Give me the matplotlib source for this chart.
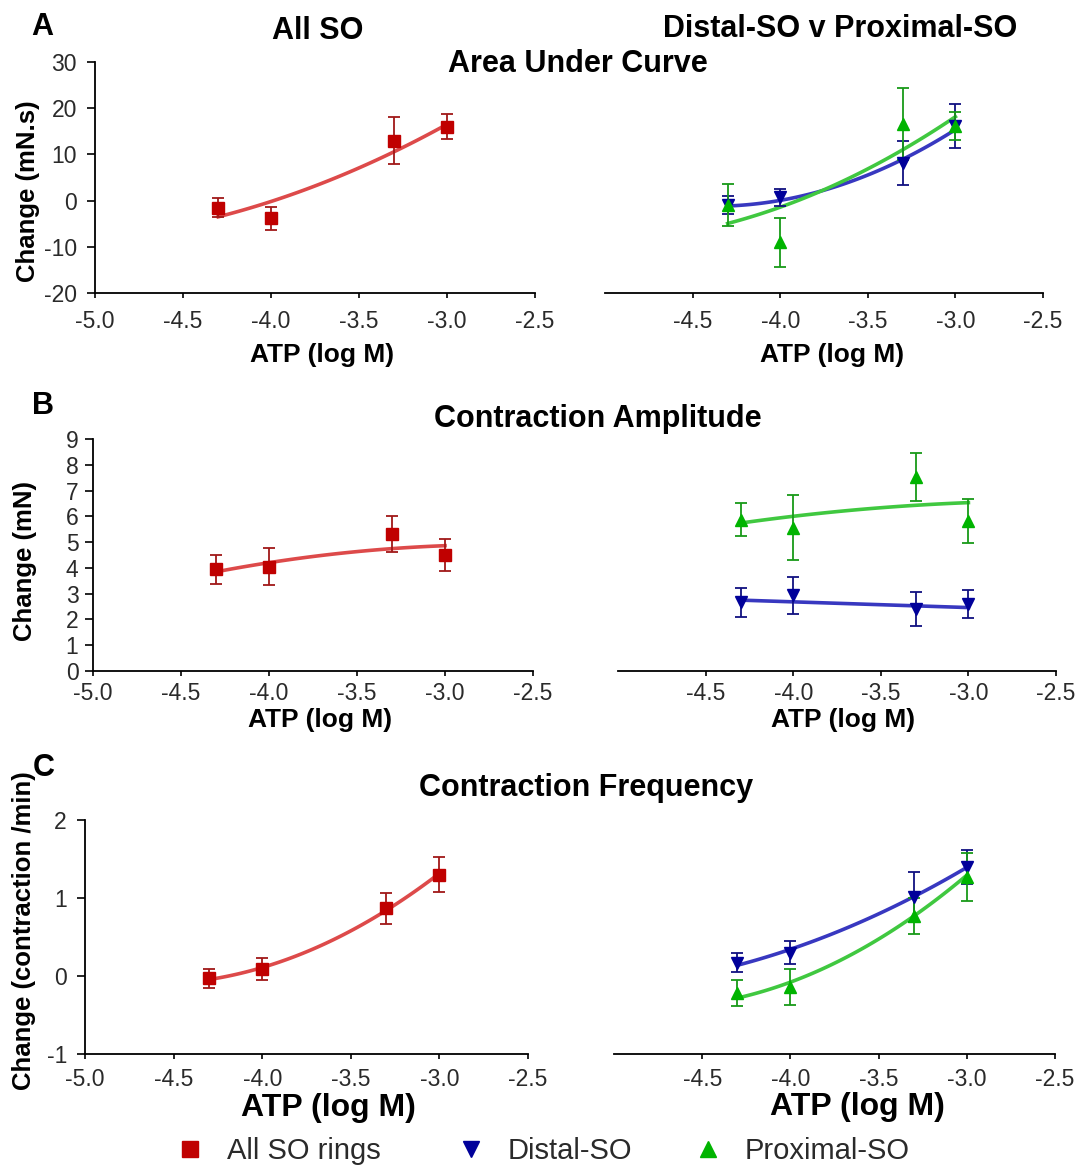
import numpy as np
import matplotlib.pyplot as plt

plt.rcParams['font.family'] = ['Liberation Sans', 'DejaVu Sans']
plt.rcParams['axes.unicode_minus'] = False

# ATP doses (log M)
atp = [-4.3, -4.0, -3.3, -3.0]

# A: area under curve (mN.s)
auc_all = [-1.5, -3.8, 13.0, 16.0]
auc_all_err = [2.0, 2.5, 5.0, 2.7]
auc_all_fit = [-3.4, -0.4, 10.8, 16.4]
auc_distal = [-1.0, 0.7, 8.2, 16.2]
auc_distal_err = [2.0, 1.8, 4.8, 4.8]
auc_distal_fit = [-1.3, 0.3, 8.7, 15.5]
auc_prox = [-1.0, -9.0, 16.6, 16.2]
auc_prox_err = [4.5, 5.3, 7.8, 3.0]
auc_prox_fit = [-4.7, -1.9, 11.5, 17.9]

# B: contraction amplitude (mN)
amp_all = [3.94, 4.05, 5.3, 4.5]
amp_all_err = [0.55, 0.72, 0.7, 0.63]
amp_all_fit = [3.85, 4.2, 4.75, 4.86]
amp_distal = [2.66, 2.93, 2.4, 2.6]
amp_distal_err = [0.55, 0.73, 0.67, 0.55]
amp_distal_fit = [2.74, 2.7, 2.51, 2.47]
amp_prox = [5.87, 5.56, 7.53, 5.83]
amp_prox_err = [0.65, 1.25, 0.93, 0.85]
amp_prox_fit = [5.75, 5.98, 6.45, 6.52]

# C: contraction frequency (contraction /min)
freq_all = [-0.03, 0.09, 0.87, 1.3]
freq_all_err = [0.12, 0.14, 0.2, 0.22]
freq_all_fit = [-0.03, 0.08, 0.87, 1.3]
freq_distal = [0.17, 0.3, 1.01, 1.4]
freq_distal_err = [0.12, 0.15, 0.32, 0.22]
freq_distal_fit = [0.15, 0.32, 1.04, 1.38]
freq_prox = [-0.22, -0.14, 0.77, 1.27]
freq_prox_err = [0.17, 0.23, 0.23, 0.31]
freq_prox_fit = [-0.26, -0.12, 0.81, 1.27]

xticks = [-5.0, -4.5, -4.0, -3.5, -3.0, -2.5]
xticks_right = [-4.5, -4.0, -3.5, -3.0, -2.5]

RED, RED_ERR, RED_LINE = '#c00000', '#a01818', '#dd4a4a'
BLUE, BLUE_ERR, BLUE_LINE = '#00009a', '#101080', '#3838c0'
GREEN, GREEN_ERR, GREEN_LINE = '#00b400', '#189a18', '#40c840'

W, H = 1085, 1169
fig = plt.figure(figsize=(W / 100, H / 100), dpi=100)


def px_axes(x0, ytop, x1, ybot):
    return fig.add_axes([x0 / W, 1 - ybot / H, (x1 - x0) / W, (ybot - ytop) / H])


def series(ax, y, err, fit, marker, mcolor, ecolor, lcolor, ms):
    ax.errorbar(atp, y, yerr=err, fmt='none', ecolor=ecolor, elinewidth=1.3,
                capsize=4.5, capthick=1.3, zorder=3)
    coef = np.polyfit(atp, fit, 2)
    xx = np.linspace(atp[0], atp[-1], 100)
    ax.plot(xx, np.polyval(coef, xx), color=lcolor, lw=2.6, zorder=2)
    ax.plot(atp, y, linestyle='none', marker=marker, color=mcolor, ms=ms, zorder=4)


def style(ax, ylim, yticks, xpad, ypad, xlab_pos, xfs, ylab_pos=None, ylabel=''):
    ax.set_xlim(-5.0, -2.5)
    ax.set_ylim(*ylim)
    for s in ['top', 'right']:
        ax.spines[s].set_visible(False)
    ax.spines['bottom'].set_linewidth(1.3)
    ax.tick_params(axis='x', direction='out', length=3.5, width=1.2, labelsize=16.5,
                   labelcolor='#2a2a2a', pad=xpad)
    ax.tick_params(axis='y', direction='out', length=6, width=1.2, labelsize=16.5,
                   labelcolor='#2a2a2a', pad=ypad)
    if ylab_pos is not None:
        ax.set_xticks(xticks)
        ax.set_yticks(yticks)
        ax.spines['left'].set_linewidth(1.3)
        ax.set_ylabel(ylabel, fontsize=18.5, fontweight='bold')
        ax.yaxis.set_label_coords(*ylab_pos)
    else:
        ax.set_xticks(xticks_right)
        ax.set_yticks([])
        ax.spines['left'].set_visible(False)
    ax.set_xticklabels(['%.1f' % t for t in ax.get_xticks()])
    ax.set_xlabel('ATP (log M)', fontsize=xfs, fontweight='bold')
    ax.xaxis.set_label_coords(*xlab_pos)


# row A
ax = px_axes(95, 62, 535, 293)
series(ax, auc_all, auc_all_err, auc_all_fit, 's', RED, RED_ERR, RED_LINE, 9)
style(ax, (-20, 30), [-20, -10, 0, 10, 20, 30], 9, 7, (0.516, -0.216), 19,
      (-0.125, 0.44), 'Change (mN.s)')
ax = px_axes(605, 62, 1043, 293)
series(ax, auc_distal, auc_distal_err, auc_distal_fit, 'v', BLUE, BLUE_ERR, BLUE_LINE, 8.5)
series(ax, auc_prox, auc_prox_err, auc_prox_fit, '^', GREEN, GREEN_ERR, GREEN_LINE, 8.5)
style(ax, (-20, 30), [], 9, 7, (0.518, -0.216), 19)

# row B
ax = px_axes(93, 439, 533, 671)
series(ax, amp_all, amp_all_err, amp_all_fit, 's', RED, RED_ERR, RED_LINE, 9)
style(ax, (0, 9), list(range(10)), 4.5, 4.5, (0.516, -0.16), 19,
      (-0.127, 0.474), 'Change (mN)')
ax = px_axes(618, 439, 1056, 671)
series(ax, amp_distal, amp_distal_err, amp_distal_fit, 'v', BLUE, BLUE_ERR, BLUE_LINE, 8.5)
series(ax, amp_prox, amp_prox_err, amp_prox_fit, '^', GREEN, GREEN_ERR, GREEN_LINE, 8.5)
style(ax, (0, 9), [], 4.5, 4.5, (0.514, -0.16), 19)

# row C
ax = px_axes(85, 820, 528, 1054)
series(ax, freq_all, freq_all_err, freq_all_fit, 's', RED, RED_ERR, RED_LINE, 9)
style(ax, (-1, 2), [-1, 0, 1, 2], 6.5, 7, (0.549, -0.165), 23,
      (-0.11, 0.526), 'Change (contraction /min)')
ax = px_axes(614, 820, 1055, 1054)
series(ax, freq_distal, freq_distal_err, freq_distal_fit, 'v', BLUE, BLUE_ERR, BLUE_LINE, 8.5)
series(ax, freq_prox, freq_prox_err, freq_prox_fit, '^', GREEN, GREEN_ERR, GREEN_LINE, 8.5)
style(ax, (-1, 2), [], 6.5, 7, (0.551, -0.162), 23)


# titles and panel letters
def ftext(x, y, s, size, **kw):
    fig.text(x / W, 1 - y / H, s, fontsize=size, fontweight='bold',
             ha='center', va='center', **kw)


ftext(42, 27, 'A', 22)
ftext(43, 406, 'B', 22)
ftext(44, 768, 'C', 22)
ftext(318, 31, 'All SO', 22)
ftext(840, 29, 'Distal-SO v Proximal-SO', 22)
ftext(578, 64, 'Area Under Curve', 22)
ftext(598, 419, 'Contraction Amplitude', 22)
ftext(586, 788, 'Contraction Frequency', 22)

# legend row, one entry per legend so the gaps follow the reference
legend_items = ['All SO rings', 'Distal-SO', 'Proximal-SO']
legend_markers = ['s', 'v', '^']
legend_colors = [RED, BLUE, GREEN]
legend_x = [175, 456, 693]
for lab, mk, col, lx in zip(legend_items, legend_markers, legend_colors, legend_x):
    h = plt.Line2D([], [], linestyle='none', marker=mk, color=col, ms=12)
    fig.legend([h], [lab], loc='center left', bbox_to_anchor=(lx / W, 1 - 1151 / H),
               frameon=False, fontsize=21, handlelength=1.0, handletextpad=0.78,
               borderpad=0, borderaxespad=0, labelcolor='#2a2a2a')

fig.savefig('out.png', dpi=100)
